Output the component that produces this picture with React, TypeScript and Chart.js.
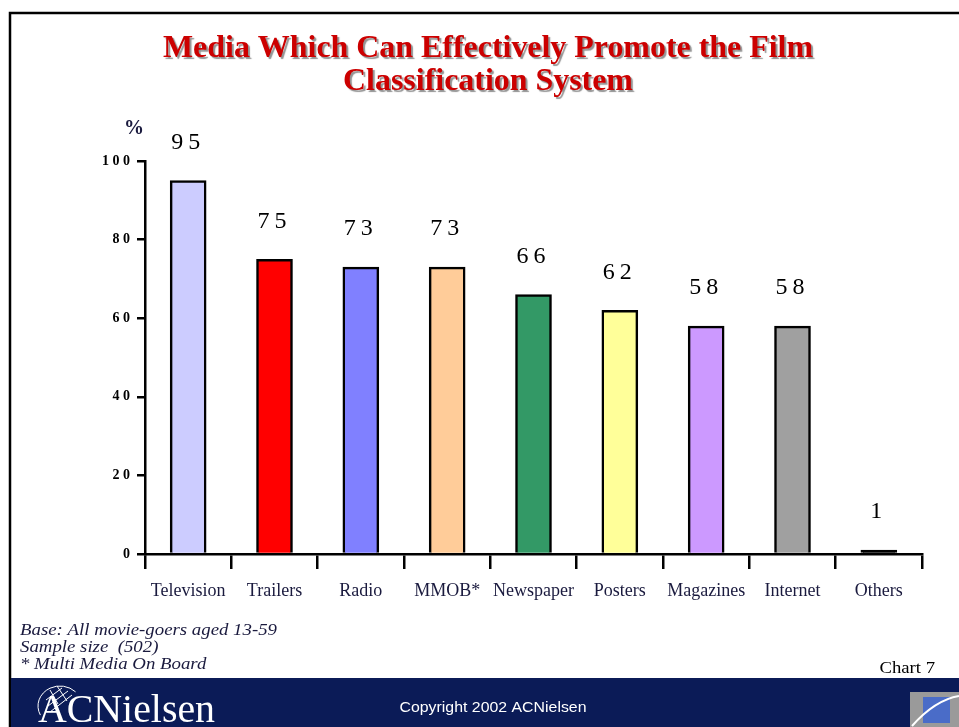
import React, { useEffect, useRef } from 'react';
import { Chart, registerables } from 'chart.js';

Chart.register(...registerables);

const categories = ['Television', 'Trailers', 'Radio', 'MMOB*', 'Newspaper', 'Posters', 'Magazines', 'Internet', 'Others'];
const values = [95, 75, 73, 73, 66, 62, 58, 58, 1];
const barColors = ['#ccccff', '#ff0000', '#8080ff', '#ffcc99', '#339966', '#ffff99', '#cc99ff', '#a0a0a0', '#000000'];
const yTickMin = 0;
const yTickMax = 100;
const yTickStep = 20;
const titleLines = ['Media Which Can Effectively Promote the Film', 'Classification System'];
const footnotes = ['Base: All movie-goers aged 13-59', 'Sample size  (502)', '* Multi Media On Board'];
const chartNumber = 'Chart 7';
const copyright = 'Copyright 2002 ACNielsen';
const logoText = 'ACNielsen';
const yUnit = '%';

const SERIF = '"Times New Roman", "Liberation Serif", serif';
const SANS = 'Arial, "Liberation Sans", sans-serif';
const NAVY_TEXT = '#1a1a3e';

function drawScaled(ctx: CanvasRenderingContext2D, text: string, x: number, y: number, sx: number, align: CanvasTextAlign) {
  ctx.save();
  ctx.translate(x, y);
  ctx.scale(sx, 1);
  ctx.textAlign = align;
  ctx.fillText(text, 0, 0);
  ctx.restore();
}

const decorPlugin = {
  id: 'decor',
  beforeDraw(chart: any) {
    const ctx = chart.ctx as CanvasRenderingContext2D;
    const W = chart.width;
    const H = chart.height;
    ctx.save();
    ctx.fillStyle = '#ffffff';
    ctx.fillRect(0, 0, W, H);
    // frame
    ctx.strokeStyle = '#000';
    ctx.lineWidth = 2.5;
    ctx.beginPath();
    ctx.moveTo(W + 5, 13);
    ctx.lineTo(10, 13);
    ctx.lineTo(10, H);
    ctx.stroke();

    // title
    ctx.font = `bold 31px ${SERIF}`;
    ctx.textBaseline = 'alphabetic';
    ctx.shadowColor = 'rgba(120,120,120,0.8)';
    ctx.shadowOffsetX = 2;
    ctx.shadowOffsetY = 2;
    ctx.shadowBlur = 1;
    ctx.fillStyle = '#cc0000';
    const w0 = ctx.measureText(titleLines[0]).width;
    const tsx = 650 / w0;
    titleLines.forEach((t, i) => drawScaled(ctx, t, 488, 57 + i * 33, tsx, 'center'));
    ctx.shadowColor = 'transparent';
    ctx.shadowOffsetX = 0;
    ctx.shadowOffsetY = 0;
    ctx.shadowBlur = 0;

    // unit
    ctx.font = `bold 20px ${SERIF}`;
    ctx.fillStyle = NAVY_TEXT;
    ctx.textAlign = 'center';
    ctx.fillText(yUnit, 134, 134);

    // footnotes
    ctx.font = `italic 16px ${SERIF}`;
    ctx.fillStyle = NAVY_TEXT;
    const fw = ctx.measureText(footnotes[0]).width;
    const fsx = 257 / fw;
    footnotes.forEach((t, i) => drawScaled(ctx, t, 20, 635 + i * 17, fsx, 'left'));

    ctx.font = `17px ${SERIF}`;
    ctx.fillStyle = '#000';
    drawScaled(ctx, chartNumber, 935, 673, 1.1, 'right');

    // footer band
    ctx.fillStyle = '#0b1b57';
    ctx.fillRect(11, 678, W - 11, H - 678);

    // logo swirl
    ctx.strokeStyle = '#ffffff';
    ctx.lineWidth = 1;
    ctx.beginPath();
    ctx.ellipse(60, 706, 22, 20, 0, Math.PI * 0.85, Math.PI * 1.75);
    ctx.stroke();
    ctx.beginPath();
    ctx.moveTo(46, 700); ctx.lineTo(62, 688);
    ctx.moveTo(48, 706); ctx.lineTo(68, 691);
    ctx.moveTo(50, 712); ctx.lineTo(72, 695);
    ctx.moveTo(50, 690); ctx.lineTo(58, 704);
    ctx.moveTo(57, 686); ctx.lineTo(67, 701);
    ctx.stroke();

    ctx.font = `40px ${SERIF}`;
    ctx.fillStyle = '#ffffff';
    const lw = ctx.measureText(logoText).width;
    drawScaled(ctx, logoText, 38, 722, 177 / lw, 'left');

    ctx.font = `15px ${SANS}`;
    const cw = ctx.measureText(copyright).width;
    drawScaled(ctx, copyright, 493, 712, 187 / cw, 'center');

    // right icon
    ctx.fillStyle = '#9a9a9a';
    ctx.fillRect(910, 692, 49, 35);
    ctx.fillStyle = '#4a6cc8';
    ctx.fillRect(923, 697, 27, 26);
    ctx.strokeStyle = '#ffffff';
    ctx.lineWidth = 2;
    ctx.beginPath();
    ctx.moveTo(912, 726);
    ctx.quadraticCurveTo(935, 700, 959, 696);
    ctx.stroke();
    ctx.restore();
  },
  afterDatasetsDraw(chart: any) {
    const ctx = chart.ctx;
    const meta = chart.getDatasetMeta(0);
    const data = chart.data.datasets[0].data;
    ctx.save();
    ctx.font = `24px ${SERIF}`;
    ctx.fillStyle = '#000';
    ctx.textAlign = 'center';
    ctx.textBaseline = 'middle';
    (ctx as any).letterSpacing = '5px';
    meta.data.forEach((el: any, i: number) => {
      ctx.fillText(String(data[i]), el.x, el.y - 38);
    });
    ctx.restore();
  },
};

export default function App() {
  const ref = useRef<HTMLCanvasElement>(null);
  useEffect(() => {
    if (!ref.current) return;
    const chart = new Chart(ref.current, {
      type: 'bar',
      data: {
        labels: categories,
        datasets: [
          {
            data: values,
            backgroundColor: barColors,
            borderColor: '#000',
            borderWidth: 2.5,
            barThickness: 36,
          },
        ],
      },
      options: {
        animation: false,
        responsive: false,
        devicePixelRatio: 1,
        layout: { padding: { top: 161, right: 37, left: 0, bottom: 0 } },
        plugins: { legend: { display: false }, tooltip: { enabled: false } },
        scales: {
          x: {
            afterFit: (s: any) => { s.height = 173; },
            border: { color: '#000', width: 2.5 },
            grid: { offset: true, drawOnChartArea: false, tickLength: 15, color: '#000', lineWidth: 2.5 },
            ticks: { padding: 11, color: NAVY_TEXT, font: { family: SERIF, size: 18 }, maxRotation: 0, autoSkip: false },
          },
          y: {
            min: yTickMin,
            max: yTickMax,
            afterFit: (s: any) => { s.width = 145; },
            border: { color: '#000', width: 2.5 },
            grid: { drawOnChartArea: false, tickLength: 8, color: '#000', lineWidth: 2.5 },
            ticks: {
              stepSize: yTickStep,
              padding: 7,
              color: '#000',
              font: { family: SERIF, size: 14, weight: 'bold' },
              callback: (v: any) => String(v).split('').join(' '),
            },
          },
        },
      },
      plugins: [decorPlugin],
    } as any);
    return () => chart.destroy();
  }, []);
  return (
    <div style={{ position: 'absolute', left: 0, top: 0, width: 959, height: 727 }}>
      <canvas ref={ref} width={959} height={727} style={{ display: 'block', width: 959, height: 727 }} />
    </div>
  );
}
